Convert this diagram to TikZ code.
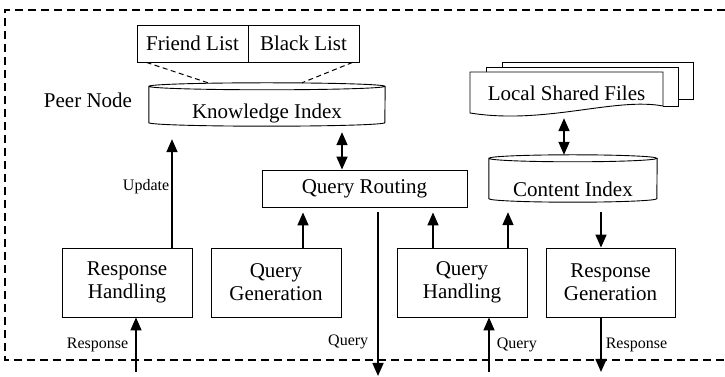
\documentclass[tikz,border=0pt]{standalone}
\usepackage{fontspec}
\setmainfont{Liberation Serif}
\usetikzlibrary{arrows.meta}
\tikzset{blk/.style = {draw, line width=.9pt, align=center, inner sep=0pt},
  flow/.style = {line width=1.6pt, ->},
  lbl/.style = {font=\fontsize{16}{18}\selectfont, inner sep=2pt}}

\begin{document}
\begin{tikzpicture}[x=1pt, y=1pt, font=\fontsize{21}{23}\selectfont,
    >={Triangle[length=13pt,width=11pt]}]
  \useasboundingbox (0,0) rectangle (725,377);
  \draw[dash pattern=on 8pt off 5pt, line width=1.1pt]
    (725,367) -- (5,367) -- (5,17) -- (725,17);
  % lists above the knowledge index
  \node[blk, minimum width=111pt, minimum height=37pt] (fl) at (192.5,333.5) {Friend List};
  \node[blk, minimum width=111pt, minimum height=37pt] (bl) at (303.5,333.5) {Black List};
  \node (peer) at (88,277) {Peer Node};
  % knowledge index (drum)
  \node[inner sep=0pt, minimum width=236pt, text height=36pt, text depth=7pt] (ki) at (267,272.5) {Knowledge Index};
  \draw[line width=.9pt] ([yshift=-3.5pt]ki.north west)
    arc[start angle=180, end angle=360, x radius=118pt, y radius=3.5pt]
    arc[start angle=0, end angle=180, x radius=118pt, y radius=3.5pt]
    -- ([yshift=3.5pt]ki.south west)
    arc[start angle=180, end angle=360, x radius=118pt, y radius=3.5pt]
    -- ([yshift=-3.5pt]ki.north east);
  \draw[dash pattern=on 5pt off 3.5pt, line width=1pt] ([xshift=10pt]fl.south west) -- ([xshift=-59pt]ki.north);
  \draw[dash pattern=on 5pt off 3.5pt, line width=1pt] ([xshift=-7pt]bl.south east) -- ([xshift=35pt]ki.north);
  % local shared files (stack of pages)
  \draw[line width=.9pt] (502,310) -- (502,315) -- (693,315) -- (693,278) -- (678,278);
  \draw[line width=.9pt] (486,305) -- (486,310) -- (678,310) -- (678,271) -- (663,271);
  \draw[line width=.9pt, fill=white] (470,264) -- (470,305) -- (663,305) -- (663,271)
    .. controls (615,280) and (545,252) .. (470,264) -- cycle;
  \node[inner sep=0pt, minimum width=193pt, text height=29pt, text depth=14pt] (lsf) at (566.5,283.5) {Local Shared Files};
  % content index (drum)
  \node[inner sep=0pt, minimum width=168pt, text height=42pt, text depth=5pt] (ci) at (573,198.5) {Content Index};
  \draw[line width=.9pt] ([yshift=-3.5pt]ci.north west)
    arc[start angle=180, end angle=360, x radius=84pt, y radius=3.5pt]
    arc[start angle=0, end angle=180, x radius=84pt, y radius=3.5pt]
    -- ([yshift=3.5pt]ci.south west)
    arc[start angle=180, end angle=360, x radius=84pt, y radius=3.5pt]
    -- ([yshift=-3.5pt]ci.north east);
  \node[blk, minimum width=205pt, minimum height=37pt] (qr) at (364.5,188.5) {Query Routing};
  % bottom row
  \node[blk, minimum width=130pt, minimum height=69pt] (rh) at (127,94.5) {Response\\Handling};
  \node[blk, minimum width=130pt, minimum height=69pt] (qg) at (276,94.5) {Query\\Generation};
  \node[blk, minimum width=130pt, minimum height=69pt] (qh) at (462,94.5) {Query\\Handling};
  \node[blk, minimum width=129pt, minimum height=69pt] (rg) at (610.5,94.5) {Response\\Generation};
  \coordinate (rin) at (136,5);
  \coordinate (qout) at (378,1);
  \coordinate (qin) at (489,5);
  \coordinate (rout) at (601,5);
  % arrows
  \draw[flow, shorten >=13pt] ([xshift=45pt]rh.north) -- ([xshift=-95pt]ki.south)
    node[lbl, midway, left] {Update};
  \draw[flow, <->, shorten <=6pt] ([xshift=75pt]ki.south) -- ([xshift=-22.5pt]qr.north);
  \draw[flow, <->, shorten <=3pt] ([xshift=-2.5pt]lsf.south) -- ([xshift=-9pt]ci.north);
  \draw[flow, shorten >=5pt] ([xshift=27pt]qg.north) -- ([xshift=-61.5pt]qr.south);
  \draw[flow, shorten >=5pt] ([xshift=-29pt]qh.north) -- ([xshift=68.5pt]qr.south);
  \draw[flow, shorten >=10pt] ([xshift=46pt]qh.north) -- ([xshift=-65pt]ci.south);
  \draw[flow, shorten <=10pt] ([xshift=28pt]ci.south) -- ([xshift=-9.5pt]rg.north);
  \draw[flow, shorten <=5pt] ([xshift=13.5pt]qr.south) -- (qout)
    node[lbl, pos=.8, left=7pt] {Query};
  \draw[flow] (rin) -- ([xshift=9pt]rh.south) node[lbl, midway, left=5pt] {Response};
  \draw[flow] (qin) -- ([xshift=27pt]qh.south) node[lbl, midway, right=5pt] {Query};
  \draw[flow] ([xshift=-9.5pt]rg.south) -- (rout) node[lbl, midway, right=2pt] {Response};
\end{tikzpicture}
\end{document}
